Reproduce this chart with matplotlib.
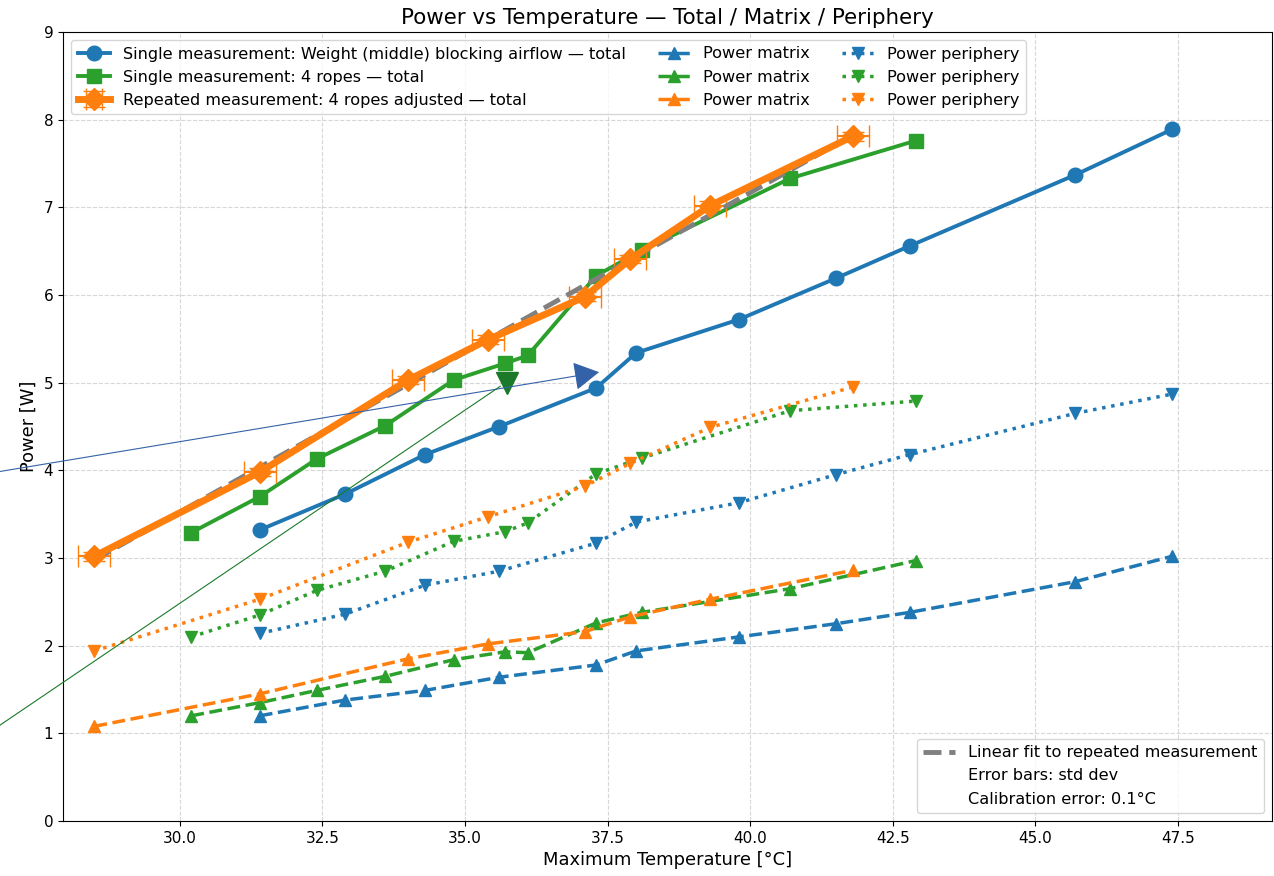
import numpy as np
import matplotlib.pyplot as plt
from matplotlib.lines import Line2D

# Single measurement: weight (middle) blocking airflow
t_weight = [31.4, 32.9, 34.3, 35.6, 37.3, 38.0, 39.8, 41.5, 42.8, 45.7, 47.4]
p_weight_total = [3.32, 3.73, 4.18, 4.50, 4.94, 5.34, 5.72, 6.19, 6.56, 7.37, 7.89]
p_weight_matrix = [1.20, 1.38, 1.49, 1.64, 1.78, 1.94, 2.10, 2.25, 2.38, 2.73, 3.02]
p_weight_periph = [2.14, 2.36, 2.69, 2.85, 3.17, 3.41, 3.63, 3.95, 4.18, 4.65, 4.87]

# Single measurement: 4 ropes
t_ropes = [30.2, 31.4, 32.4, 33.6, 34.8, 35.7, 36.1, 37.3, 38.1, 40.7, 42.9]
p_ropes_total = [3.29, 3.70, 4.13, 4.51, 5.03, 5.22, 5.31, 6.22, 6.51, 7.33, 7.76]
p_ropes_matrix = [1.20, 1.35, 1.49, 1.65, 1.84, 1.93, 1.92, 2.26, 2.38, 2.65, 2.97]
p_ropes_periph = [2.10, 2.35, 2.63, 2.85, 3.19, 3.30, 3.40, 3.96, 4.14, 4.68, 4.79]

# Repeated measurement: 4 ropes adjusted (mean + std dev)
t_adj = [28.5, 31.4, 34.0, 35.4, 37.1, 37.9, 39.3, 41.8]
p_adj_total = [3.02, 3.98, 5.03, 5.49, 5.98, 6.41, 7.02, 7.81]
p_adj_matrix = [1.08, 1.45, 1.85, 2.02, 2.16, 2.33, 2.53, 2.86]
p_adj_periph = [1.94, 2.53, 3.18, 3.47, 3.82, 4.08, 4.49, 4.95]
t_adj_err = [0.28, 0.28, 0.28, 0.28, 0.28, 0.28, 0.28, 0.28]
p_adj_err = [0.05, 0.05, 0.05, 0.05, 0.05, 0.05, 0.05, 0.05]

# arrow annotations (start outside the axes, end at the point)
arrow_blue = [(24.0, 3.68), (37.35, 5.12)]
arrow_green = [(24.0, -0.16), (35.62, 4.96)]
green_tip = (35.74, 5.0)

c_blue, c_green, c_orange = "tab:blue", "tab:green", "tab:orange"

fig = plt.figure(figsize=(12.74, 8.76), dpi=100)
ax = fig.add_axes([63 / 1274, 55 / 876, 1209 / 1274, 789 / 876])

h1, = ax.plot(t_weight, p_weight_total, "-o", color=c_blue, lw=2.8, ms=10.5,
              label="Single measurement: Weight (middle) blocking airflow — total")
h2, = ax.plot(t_ropes, p_ropes_total, "-s", color=c_green, lw=2.8, ms=10.5,
              label="Single measurement: 4 ropes — total")
h3 = ax.errorbar(t_adj, p_adj_total, xerr=t_adj_err, yerr=p_adj_err, fmt="-D",
                 color=c_orange, lw=5, ms=11, capsize=8, elinewidth=1.5,
                 label="Repeated measurement: 4 ropes adjusted — total")

m1, = ax.plot(t_weight, p_weight_matrix, "--^", color=c_blue, lw=2.5, ms=8.5, label="Power matrix")
m2, = ax.plot(t_ropes, p_ropes_matrix, "--^", color=c_green, lw=2.5, ms=8.5, label="Power matrix")
m3, = ax.plot(t_adj, p_adj_matrix, "--^", color=c_orange, lw=2.5, ms=8.5, label="Power matrix")
q1, = ax.plot(t_weight, p_weight_periph, ":v", color=c_blue, lw=2.5, ms=8.5, label="Power periphery")
q2, = ax.plot(t_ropes, p_ropes_periph, ":v", color=c_green, lw=2.5, ms=8.5, label="Power periphery")
q3, = ax.plot(t_adj, p_adj_periph, ":v", color=c_orange, lw=2.5, ms=8.5, label="Power periphery")

# linear fit to the repeated measurement
coef = np.polyfit(t_adj, p_adj_total, 1)
t_fit = np.linspace(min(t_adj), max(t_adj), 50)
fit, = ax.plot(t_fit, np.polyval(coef, t_fit), "--", color="gray", lw=3.5,
               label="Linear fit to repeated measurement")

ax.annotate("", xy=arrow_blue[1], xytext=arrow_blue[0], annotation_clip=False,
            arrowprops=dict(arrowstyle="-|>,head_length=0.8,head_width=0.45",
                            mutation_scale=20, color="#3462a8", lw=0.8, shrinkA=0, shrinkB=0))
ax.annotate("", xy=arrow_green[1], xytext=arrow_green[0], annotation_clip=False,
            arrowprops=dict(arrowstyle="-", color="#1b7a2a", lw=0.8, shrinkA=0, shrinkB=0))
ax.plot([green_tip[0]], [green_tip[1]], "v", color="#1b7a2a", ms=16, clip_on=False)

ax.set_xlim(27.95, 49.15)
ax.set_ylim(0, 9)
ax.grid(True, linestyle="--", alpha=0.5)
ax.tick_params(labelsize=11)
ax.set_xlabel("Maximum Temperature [°C]", fontsize=12.9)
ax.set_ylabel("Power [W]", fontsize=12.9)
ax.set_title("Power vs Temperature — Total / Matrix / Periphery", fontsize=15.4)

leg1 = ax.legend(handles=[h1, h2, h3, m1, m2, m3, q1, q2, q3], ncol=3,
                 loc="upper left", fontsize=11.6)
ax.add_artist(leg1)
blank = Line2D([], [], linestyle="none")
ax.legend(handles=[fit, blank, blank],
          labels=["Linear fit to repeated measurement", "Error bars: std dev",
                  "Calibration error: 0.1°C"],
          loc="lower right", fontsize=11.6)

fig.savefig("out.png", dpi=100)
